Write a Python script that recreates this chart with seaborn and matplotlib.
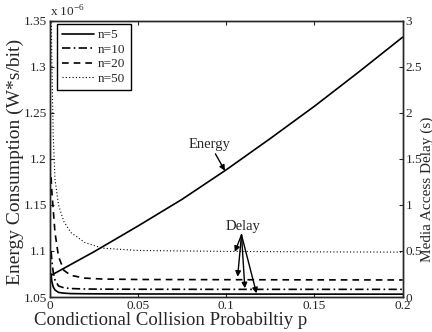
import numpy as np
import matplotlib
matplotlib.use('Agg')
import matplotlib.pyplot as plt
import seaborn as sns

sns.set_style('ticks')
plt.rcParams.update({
    'font.family': ['Liberation Serif', 'DejaVu Serif'],
    'mathtext.fontset': 'custom', 'mathtext.rm': 'Liberation Serif',
    'font.size': 9.5, 'xtick.labelsize': 9.5, 'ytick.labelsize': 9.5,
    'axes.linewidth': 1.0, 'xtick.direction': 'in', 'ytick.direction': 'in',
    'xtick.major.size': 3, 'ytick.major.size': 3,
})

# Energy (left axis, x 10^-6 W*s/bit)
p_energy = [0.0, 0.025, 0.05, 0.075, 0.1, 0.125, 0.15, 0.175, 0.2]
energy = [1.0727, 1.099, 1.127, 1.156, 1.188, 1.222, 1.257, 1.294, 1.332]

# Media access delay (right axis, s)
p_delay = [0.0008, 0.0012, 0.002, 0.003, 0.005, 0.008, 0.012, 0.02, 0.03, 0.05, 0.1, 0.15, 0.2]
delay_n5 = [0.25, 0.17, 0.11, 0.076, 0.05, 0.042, 0.037, 0.035, 0.034, 0.033, 0.032, 0.031, 0.031]
delay_n10 = [0.5, 0.4, 0.27, 0.185, 0.12, 0.1, 0.092, 0.087, 0.085, 0.084, 0.083, 0.083, 0.083]
delay_n20 = [1.3, 1.15, 0.95, 0.7, 0.44, 0.29, 0.235, 0.205, 0.195, 0.19, 0.188, 0.186, 0.185]
delay_n50 = [3.3, 2.6, 1.75, 1.28, 1.0, 0.82, 0.7, 0.59, 0.53, 0.505, 0.495, 0.49, 0.487]

x_ticks = [0, 0.05, 0.1, 0.15, 0.2]
x_labels = ['0', '0.05', '0.1', '0.15', '0.2']
left_ticks = [1.05, 1.1, 1.15, 1.2, 1.25, 1.3, 1.35]
left_labels = ['1.05', '1.1', '1.15', '1.2', '1.25', '1.3', '1.35']
right_ticks = [0, 0.5, 1, 1.5, 2, 2.5, 3]
right_labels = ['0', '0.5', '1', '1.5', '2', '2.5', '3']

fig = plt.figure(figsize=(4.32, 3.32), dpi=100)
ax = fig.add_axes([0.115, 0.1054, 0.817, 0.8326])
ax2 = ax.twinx()

sns.lineplot(x=p_energy, y=energy, ax=ax, color='black', linewidth=1.2)
ax.set_xlim(0, 0.2)
ax.set_ylim(1.05, 1.35)
ax.set_xticks(x_ticks)
ax.set_xticklabels(x_labels)
ax.set_yticks(left_ticks)
ax.set_yticklabels(left_labels)
ax.tick_params(axis='x', top=True, bottom=True, pad=2)
ax.tick_params(axis='y', left=True, right=False, pad=2)
ax.set_xlabel('Condictional Collision Probabiltiy p', fontsize=13.5)
ax.xaxis.set_label_coords(0.344, -0.056)
ax.set_ylabel('Energy Consumption (W*s/bit)', fontsize=14)
ax.yaxis.set_label_coords(-0.073, 0.49)
ax.text(0.0, 1.005, r'x 10$^{-6}$', transform=ax.transAxes, fontsize=9.5,
        ha='left', va='bottom')

styles = [('n=5', delay_n5, '-', 1.2), ('n=10', delay_n10, (0, (5, 2, 1, 2)), 1.2),
          ('n=20', delay_n20, (0, (4, 3)), 1.2), ('n=50', delay_n50, (0, (1, 2)), 0.8)]
for lbl, vals, ls, lw in styles:
    sns.lineplot(x=p_delay, y=vals, ax=ax2, color='black', linestyle=ls,
                 linewidth=lw, label=lbl)
ax2.set_ylim(0, 3)
ax2.set_yticks(right_ticks)
ax2.set_yticklabels(right_labels)
ax2.tick_params(axis='y', right=True, left=False, pad=2)
ax2.set_ylabel('Media Access Delay (s)', fontsize=11)
ax2.yaxis.set_label_coords(1.051, 0.39)
for sp in ax.spines.values():
    sp.set_visible(True)
for sp in ax2.spines.values():
    sp.set_visible(True)

leg = ax2.legend(loc='upper left', bbox_to_anchor=(0.021, 0.989), borderaxespad=0,
                 fontsize=9.5, handlelength=2.4, labelspacing=0.18, borderpad=0.4,
                 handletextpad=0.3, fancybox=False, framealpha=1, edgecolor='black')
leg.get_frame().set_linewidth(1.0)

arrow = dict(arrowstyle='-|>', color='black', lw=1.0, mutation_scale=8, shrinkA=0, shrinkB=0)
ax2.annotate('Energy', xy=(0.0993, 1.37), xytext=(0.0908, 1.66),
             ha='center', va='center', fontsize=10.5, arrowprops=arrow)
ax2.text(0.1095, 0.77, 'Delay', ha='center', va='center', fontsize=10.5)
for tx, ty in [(0.1049, 0.49), (0.1065, 0.22), (0.1106, 0.095), (0.1172, 0.04)]:
    ax2.annotate('', xy=(tx, ty), xytext=(0.1087, 0.674), arrowprops=arrow)

fig.savefig('out.png', dpi=100)
